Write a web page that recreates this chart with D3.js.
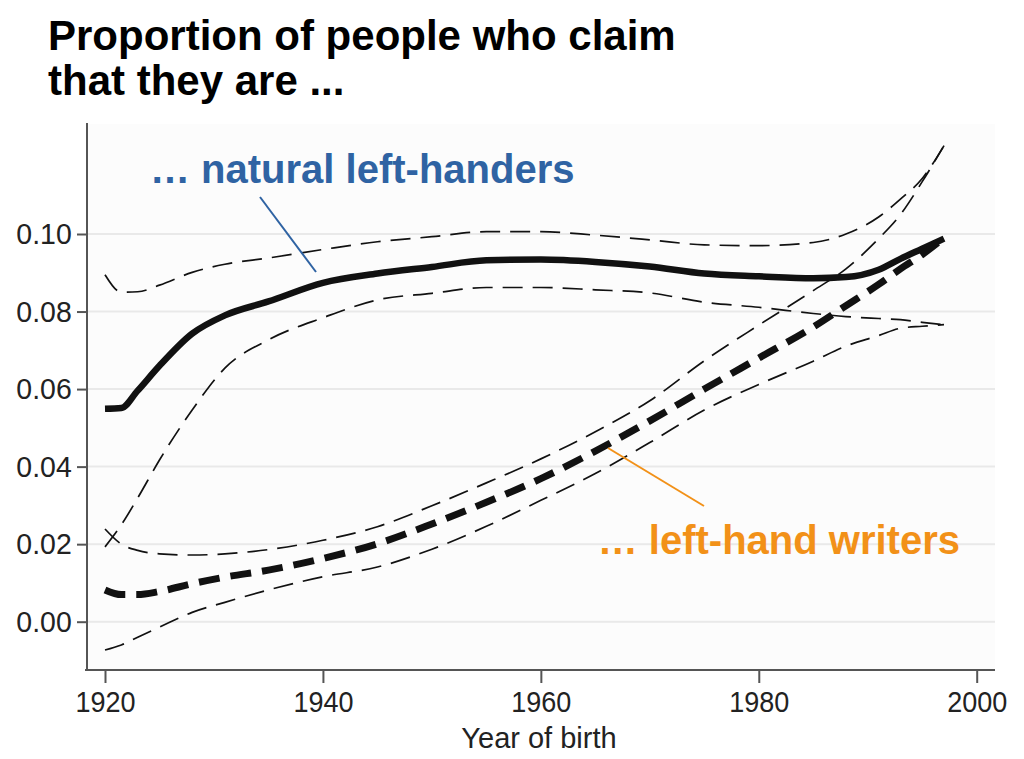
<!doctype html>
<html>
<head>
    <meta charset="utf-8" />
    <title>Left-handers by year of birth</title>
    <style>
        body { margin: 0; background: #fff; }
        svg text { font-family: "Liberation Sans", Arial, sans-serif; }
        .grid line { stroke: #e9e9e9; stroke-width: 2; }
    </style>
</head>
<body>
    <div id="chart"></div>

    <script src="https://cdn.jsdelivr.net/npm/d3@7"></script>
    <script>
        // year of birth, shared by all curves
        var years = [1920, 1921.5, 1923, 1925, 1928, 1931, 1935, 1940, 1945, 1950, 1955,
                     1960, 1965, 1970, 1975, 1980, 1985, 1988, 1991, 1993, 1995, 1997];

        // natural left-handers: estimate and confidence band
        var naturalMid = [0.0549, 0.0551, 0.0596, 0.0660, 0.0743, 0.0790, 0.0826, 0.0874, 0.0898, 0.0915, 0.0932,
                          0.0934, 0.0928, 0.0916, 0.0898, 0.0891, 0.0886, 0.0889, 0.0908, 0.0936, 0.0962, 0.0988];
        var naturalHigh = [0.0895, 0.0850, 0.0851, 0.0868, 0.0901, 0.0922, 0.0938, 0.0960, 0.0980, 0.0993, 0.1006,
                           0.1006, 0.0997, 0.0985, 0.0972, 0.0970, 0.0978, 0.1000, 0.1044, 0.1090, 0.1143, 0.1228];
        var naturalLow = [0.0193, 0.0250, 0.0319, 0.0417, 0.0546, 0.0654, 0.0727, 0.0784, 0.0830, 0.0847, 0.0862,
                          0.0862, 0.0856, 0.0848, 0.0824, 0.0811, 0.0795, 0.0787, 0.0782, 0.0779, 0.0772, 0.0766];

        // left-hand writers: estimate and confidence band
        var writerMid = [0.0082, 0.0070, 0.0070, 0.0078, 0.0098, 0.0115, 0.0133, 0.0163, 0.0201, 0.0252, 0.0308,
                         0.0369, 0.0440, 0.0518, 0.0600, 0.0680, 0.0760, 0.0815, 0.0870, 0.0910, 0.0947, 0.0990];
        var writerHigh = [0.0239, 0.0200, 0.0184, 0.0175, 0.0172, 0.0175, 0.0186, 0.0210, 0.0245, 0.0299, 0.0358,
                          0.0420, 0.0490, 0.0570, 0.0673, 0.0765, 0.0854, 0.0910, 0.0988, 0.1050, 0.1135, 0.1228];
        var writerLow = [-0.0073, -0.0060, -0.0040, -0.0014, 0.0024, 0.0050, 0.0082, 0.0116, 0.0141, 0.0187, 0.0246,
                         0.0313, 0.0382, 0.0462, 0.0546, 0.0612, 0.0672, 0.0711, 0.0738, 0.0757, 0.0762, 0.0766];

        var xTicks = [1920, 1940, 1960, 1980, 2000];
        var yTicks = [0, 0.02, 0.04, 0.06, 0.08, 0.10];

        var titleLines = ["Proportion of people who claim", "that they are ..."];
        var naturalLabel = "\u2026 natural left-handers";
        var writerLabel = "\u2026 left-hand writers";

        var w = 1024, h = 759;
        var plotLeft = 87, plotRight = 995, plotTop = 124, plotBottom = 670;

        var svg = d3.select("#chart").append("svg").attr("width", w).attr("height", h);

        var x = d3.scaleLinear().domain([1920, 2000]).range([105, 976.7]);
        var y = d3.scaleLinear().domain([0, 0.1]).range([621.7, 234]);

        // plot panel
        svg.append("rect").attr("x", plotLeft).attr("y", plotTop)
            .attr("width", plotRight - plotLeft).attr("height", plotBottom - plotTop)
            .attr("fill", "#fcfcfc");

        svg.append("g").attr("class", "grid")
            .selectAll("line").data(yTicks).enter().append("line")
            .attr("x1", plotLeft).attr("x2", plotRight)
            .attr("y1", function(d) { return y(d); })
            .attr("y2", function(d) { return y(d); });

        // axes
        var yAxis = svg.append("g").attr("transform", "translate(" + plotLeft + ",0)")
            .call(d3.axisLeft(y).tickValues(yTicks).tickSize(10).tickPadding(6).tickFormat(d3.format(".2f")));
        yAxis.select(".domain").remove();
        yAxis.selectAll("line").attr("stroke", "#555").attr("stroke-width", 2);
        yAxis.selectAll("text").attr("font-size", 30).attr("fill", "#222")
            .attr("transform", "scale(0.95,1)");

        var xAxis = svg.append("g").attr("transform", "translate(0," + plotBottom + ")")
            .call(d3.axisBottom(x).tickValues(xTicks).tickSize(13).tickPadding(8).tickFormat(d3.format("d")));
        xAxis.select(".domain").remove();
        xAxis.selectAll("line").attr("stroke", "#555").attr("stroke-width", 2);
        xAxis.selectAll("text").attr("font-size", 30).attr("fill", "#222")
            .attr("transform", "scale(0.9,1)");

        svg.append("line").attr("x1", plotLeft).attr("x2", plotLeft).attr("y1", plotTop - 1).attr("y2", plotBottom + 1)
            .attr("stroke", "#555").attr("stroke-width", 2);
        svg.append("line").attr("x1", plotLeft - 2).attr("x2", plotRight).attr("y1", plotBottom).attr("y2", plotBottom)
            .attr("stroke", "#555").attr("stroke-width", 2);

        svg.append("text").attr("x", 539).attr("y", 748)
            .attr("text-anchor", "middle").attr("font-size", 29).attr("fill", "#222")
            .text("Year of birth");

        // curves
        var line = d3.line()
            .x(function(d) { return x(d[0]); })
            .y(function(d) { return y(d[1]); })
            .curve(d3.curveMonotoneX);

        var curves = [
            { values: naturalHigh, width: 1.7, dash: "20,10" },
            { values: naturalLow, width: 1.7, dash: "20,10" },
            { values: writerHigh, width: 1.7, dash: "20,10" },
            { values: writerLow, width: 1.7, dash: "20,10" },
            { values: naturalMid, width: 6.5, dash: null },
            { values: writerMid, width: 7, dash: "21,11" }
        ];

        svg.selectAll("path.curve").data(curves).enter().append("path")
            .attr("class", "curve")
            .attr("d", function(c) { return line(d3.zip(years, c.values)); })
            .attr("fill", "none")
            .attr("stroke", "#111")
            .attr("stroke-width", function(c) { return c.width; })
            .attr("stroke-dasharray", function(c) { return c.dash; })
            .attr("stroke-linejoin", "round");

        // annotations
        svg.append("line").attr("x1", 260).attr("y1", 197).attr("x2", 316).attr("y2", 272)
            .attr("stroke", "#2f63a3").attr("stroke-width", 2);
        svg.append("text").attr("x", 150).attr("y", 183)
            .attr("font-size", 40).attr("font-weight", "bold").attr("fill", "#2f63a3")
            .text(naturalLabel);

        svg.append("line").attr("x1", 608).attr("y1", 448).attr("x2", 704).attr("y2", 506)
            .attr("stroke", "#f29118").attr("stroke-width", 2);
        svg.append("text").attr("x", 960).attr("y", 554).attr("text-anchor", "end")
            .attr("font-size", 40).attr("font-weight", "bold").attr("fill", "#f29118")
            .text(writerLabel);

        // title
        svg.append("g").selectAll("text").data(titleLines).enter().append("text")
            .attr("x", 48)
            .attr("y", function(d, i) { return 50 + i * 45; })
            .attr("font-size", 42).attr("font-weight", "bold").attr("fill", "#000")
            .text(function(d) { return d; });
    </script>
</body>
</html>
